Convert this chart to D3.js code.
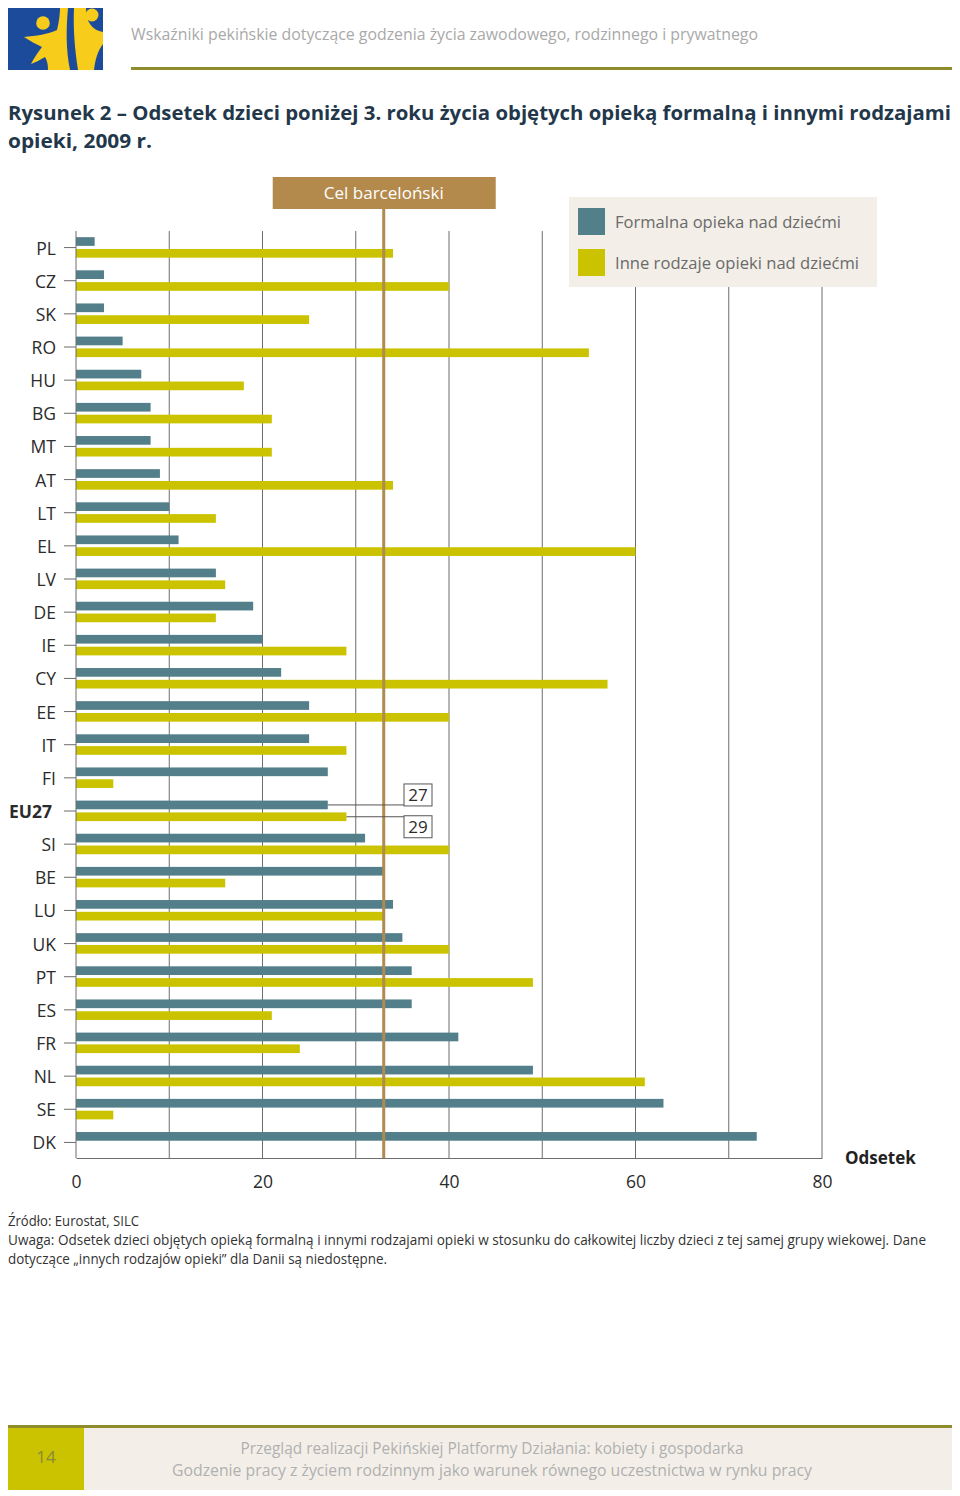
<!DOCTYPE html>
<html><head><meta charset="utf-8">
<script src="https://cdn.jsdelivr.net/npm/d3@7"></script>
<style>body{margin:0;background:#fff}svg{display:block}</style>
</head><body>
<script>
const countries = ["PL","CZ","SK","RO","HU","BG","MT","AT","LT","EL","LV","DE","IE","CY","EE","IT","FI","EU27","SI","BE","LU","UK","PT","ES","FR","NL","SE","DK"];
const formal = [2,3,3,5,7,8,8,9,10,11,15,19,20,22,25,25,27,27,31,33,34,35,36,36,41,49,63,73];
const other  = [34,40,25,55,18,21,21,34,15,60,16,15,29,57,40,29,4,29,40,16,33,40,49,21,24,61,4,null];
const xTicks = [0,20,40,60,80];
const gridVals = [10,20,30,40,50,60,70,80];
const target = 33;
const seriesNames = ["Formalna opieka nad dziećmi","Inne rodzaje opieki nad dziećmi"];
const colors = ["#527f89","#cbc300"];

const W=960,H=1496;
const font = "'Open Sans', 'Noto Sans', sans-serif";
const svg = d3.select("body").append("svg").attr("width",W).attr("height",H).style("font-family",font);

// Header logo
const logo = svg.append("g");
logo.append("rect").attr("x",8).attr("y",8).attr("width",95).attr("height",62).attr("fill","#1c4b9b");
logo.append("path").attr("d","M24,37 C36,36 48,34 57,30 C59,22 60,14 60,8 L68,8 C66,30 66,50 70,70 L48,70 C48,64 47,60 45,57 C40,60 36,62 31,64 C34,58 38,52 42,47 C36,44 30,41 24,37 Z").attr("fill","#f7cc1a");
logo.append("circle").attr("cx",43).attr("cy",23).attr("r",6.8).attr("fill","#f7cc1a");
logo.append("path").attr("d","M74,8 L86,8 C86,22 92,30 103,32 L103,44 C98,50 95,60 94,70 L78,70 C75,50 73,30 74,8 Z").attr("fill","#f7cc1a");
logo.append("circle").attr("cx",92).attr("cy",15).attr("r",6.5).attr("fill","#f7cc1a");

svg.append("text").attr("x",131).attr("y",40).attr("font-size",16).attr("fill","#a9a9a9")
  .attr("textLength",627).attr("lengthAdjust","spacingAndGlyphs")
  .text("Wskaźniki pekińskie dotyczące godzenia życia zawodowego, rodzinnego i prywatnego");
svg.append("rect").attr("x",131).attr("y",67).attr("width",821).attr("height",3).attr("fill","#8e8c2c");

// Title
svg.append("text").attr("x",8).attr("y",120).attr("font-size",20).attr("font-weight","bold").attr("fill","#23374b")
  .attr("textLength",943).attr("lengthAdjust","spacingAndGlyphs")
  .text("Rysunek 2 – Odsetek dzieci poniżej 3. roku życia objętych opieką formalną i innymi rodzajami");
svg.append("text").attr("x",8).attr("y",148).attr("font-size",20).attr("font-weight","bold").attr("fill","#23374b")
  .attr("textLength",144).attr("lengthAdjust","spacingAndGlyphs")
  .text("opieki, 2009 r.");

// Scales
const x = d3.scaleLinear().domain([0,80]).range([76,822]);
const y = d3.scaleBand().domain(countries).range([231,1159]).padding(0);
const bh = 8.7;
const axisY = 1158;

// Grid lines
svg.append("g").selectAll("line").data(gridVals).join("line")
  .attr("x1",d=>x(d)).attr("x2",d=>x(d)).attr("y1",231).attr("y2",axisY)
  .attr("stroke","#6d6d6d").attr("stroke-width",1);

// Bars
const rows = countries.map((c,i)=>({c,f:formal[i],o:other[i]}));
svg.append("g").selectAll("rect").data(rows).join("rect")
  .attr("x",x(0)).attr("y",d=>y(d.c)+y.bandwidth()/2-10.4).attr("width",d=>x(d.f)-x(0)).attr("height",bh).attr("fill",colors[0]);
svg.append("g").selectAll("rect").data(rows.filter(d=>d.o!=null)).join("rect")
  .attr("x",x(0)).attr("y",d=>y(d.c)+y.bandwidth()/2+1.4).attr("width",d=>x(d.o)-x(0)).attr("height",bh).attr("fill",colors[1]);

// Legend
const lg = svg.append("g");
lg.append("rect").attr("x",569).attr("y",197).attr("width",308).attr("height",90).attr("fill","#f3efe8");
seriesNames.forEach((n,i)=>{
  lg.append("rect").attr("x",578).attr("y",208+i*41).attr("width",27).attr("height",27).attr("fill",colors[i]);
  lg.append("text").attr("x",615).attr("y",222+i*41).attr("dy","0.35em").attr("font-size",17).attr("fill","#6a6a6a")
    .attr("textLength",i?244:226).attr("lengthAdjust","spacingAndGlyphs").text(n);
});

// Y axis
const yAxis = svg.append("g").attr("transform",`translate(${x(0)},0)`)
  .call(d3.axisLeft(y).tickSize(12).tickPadding(8));
yAxis.select(".domain").attr("stroke","#6d6d6d").attr("d",`M0,231V${axisY}`);
yAxis.selectAll(".tick line").attr("stroke","#6d6d6d");
yAxis.selectAll(".tick text").attr("font-size",17.5).attr("fill","#2b2b2b").attr("font-family",font)
  .attr("font-weight",d=>d==="EU27"?"bold":"normal").attr("dx",d=>d==="EU27"?"-4":"0").attr("dy","0.4em");

// X axis
const xAxis = svg.append("g").attr("transform",`translate(0,${axisY})`)
  .call(d3.axisBottom(x).tickValues(xTicks).tickSize(0).tickPadding(18));
xAxis.select(".domain").attr("stroke","#6d6d6d");
xAxis.selectAll(".tick text").attr("font-size",17.5).attr("fill","#2b2b2b").attr("font-family",font);
svg.append("text").attr("x",845).attr("y",1158).attr("dy","0.35em").attr("font-size",17).attr("font-weight","bold").attr("fill","#222").text("Odsetek");

// Target
svg.append("line").attr("x1",x(target)).attr("x2",x(target)).attr("y1",209).attr("y2",axisY)
  .attr("stroke","#b08a4e").attr("stroke-width",3);
svg.append("rect").attr("x",x(target)-111).attr("y",177).attr("width",223).attr("height",32).attr("fill","#b38a4c");
svg.append("text").attr("x",x(target)).attr("y",193).attr("dy","0.35em").attr("text-anchor","middle").attr("font-size",17).attr("fill","#fff")
  .attr("textLength",120).attr("lengthAdjust","spacingAndGlyphs").text("Cel barceloński");

// EU27 annotations
const ei = countries.indexOf("EU27");
const eyF = y("EU27")+y.bandwidth()/2-10.4+bh/2;
const eyO = y("EU27")+y.bandwidth()/2+1.4+bh/2;
const ann = [{v:formal[ei],yl:eyF,by:eyF-21},{v:other[ei],yl:eyO,by:eyO-1}];
ann.forEach(a=>{
  svg.append("line").attr("x1",x(a.v)).attr("x2",404).attr("y1",a.yl).attr("y2",a.yl).attr("stroke","#555").attr("stroke-width",1);
  svg.append("rect").attr("x",404).attr("y",a.by).attr("width",28).attr("height",22).attr("fill","#fff").attr("stroke","#555").attr("stroke-width",1);
  svg.append("text").attr("x",418).attr("y",a.by+11).attr("dy","0.35em").attr("text-anchor","middle").attr("font-size",17).attr("fill","#2b2b2b").text(a.v);
});

// Notes
svg.append("text").attr("x",8).attr("y",1226).attr("font-size",14).attr("fill","#333")
  .attr("textLength",131).attr("lengthAdjust","spacingAndGlyphs").text("Źródło: Eurostat, SILC");
svg.append("text").attr("x",8).attr("y",1245).attr("font-size",14).attr("fill","#333")
  .attr("textLength",918).attr("lengthAdjust","spacingAndGlyphs")
  .text("Uwaga: Odsetek dzieci objętych opieką formalną i innymi rodzajami opieki w stosunku do całkowitej liczby dzieci z tej samej grupy wiekowej. Dane");
svg.append("text").attr("x",8).attr("y",1264).attr("font-size",14).attr("fill","#333")
  .attr("textLength",379).attr("lengthAdjust","spacingAndGlyphs")
  .text("dotyczące „innych rodzajów opieki” dla Danii są niedostępne.");

// Footer
svg.append("rect").attr("x",8).attr("y",1425).attr("width",944).attr("height",3).attr("fill","#8e8c2c");
svg.append("rect").attr("x",8).attr("y",1428).attr("width",76).attr("height",62).attr("fill","#cbc300");
svg.append("rect").attr("x",84).attr("y",1428).attr("width",868).attr("height",62).attr("fill","#f3efe8");
svg.append("text").attr("x",46).attr("y",1457).attr("dy","0.35em").attr("text-anchor","middle").attr("font-size",17).attr("fill","#8a8a3a").text("14");
svg.append("text").attr("x",492).attr("y",1448).attr("dy","0.35em").attr("text-anchor","middle").attr("font-size",16).attr("fill","#b0b0b0")
  .attr("textLength",503).attr("lengthAdjust","spacingAndGlyphs").text("Przegląd realizacji Pekińskiej Platformy Działania: kobiety i gospodarka");
svg.append("text").attr("x",492).attr("y",1470).attr("dy","0.35em").attr("text-anchor","middle").attr("font-size",16).attr("fill","#b0b0b0")
  .attr("textLength",640).attr("lengthAdjust","spacingAndGlyphs").text("Godzenie pracy z życiem rodzinnym jako warunek równego uczestnictwa w rynku pracy");
</script>
</body></html>
